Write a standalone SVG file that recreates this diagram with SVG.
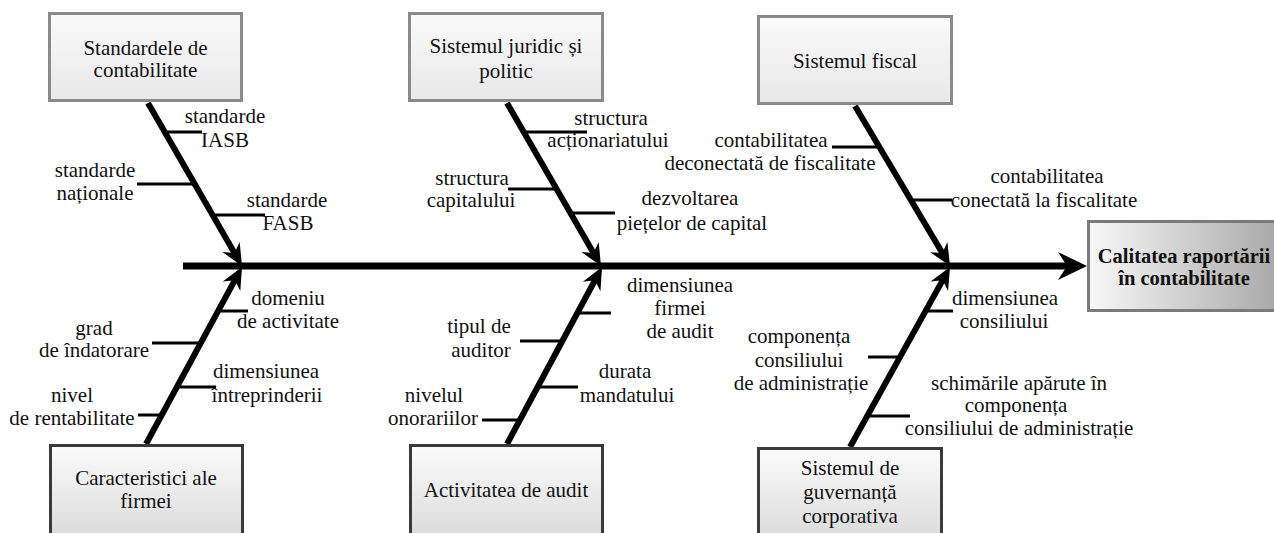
<svg xmlns="http://www.w3.org/2000/svg" width="1274" height="533" viewBox="0 0 1274 533" font-family="Liberation Serif, DejaVu Serif, serif">
<style>
text{font-size:21px;fill:#111;text-anchor:middle}
.b{font-weight:bold;font-size:20.5px}
.top{fill:url(#gTop);stroke:#8a8a8a;stroke-width:3}
.bot{fill:url(#gBot);stroke:#3a3a3a;stroke-width:3}
.res{fill:url(#gRes);stroke:#7a7a7a;stroke-width:3}
.bone{stroke:#000;stroke-width:6;fill:none;marker-end:url(#ah)}
.spine{stroke:#000;stroke-width:7;fill:none;marker-end:url(#ahMain)}
.sub{stroke:#000;stroke-width:3}
</style>
<defs>
<linearGradient id="gTop" x1="0" y1="0" x2="0" y2="1"><stop offset="0" stop-color="#fafafa"/><stop offset="1" stop-color="#e8e8e8"/></linearGradient>
<linearGradient id="gBot" x1="0" y1="0" x2="0" y2="1"><stop offset="0" stop-color="#fbfbfb"/><stop offset="1" stop-color="#d8d8d8"/></linearGradient>
<linearGradient id="gRes" x1="0" y1="0" x2="1" y2="0"><stop offset="0" stop-color="#f8f8f8"/><stop offset="1" stop-color="#a8a8a8"/></linearGradient>
<marker id="ah" markerUnits="userSpaceOnUse" orient="auto" refX="9" refY="0" overflow="visible" markerWidth="24" markerHeight="22">
<path d="M0,-10 L22,0 L0,10 L7,0 Z" fill="#000"/>
</marker>
<marker id="ahMain" markerUnits="userSpaceOnUse" orient="auto" refX="11" refY="0" overflow="visible" markerWidth="30" markerHeight="30">
<path d="M0,-14 L29,0 L0,14 L9,0 Z" fill="#000"/>
</marker>
</defs>

<g id="connectors">
<line class="spine" x1="183" y1="266" x2="1069" y2="266"/>
<line class="bone" x1="148" y1="103" x2="235.5" y2="254.7"/>
<line class="bone" x1="507" y1="103" x2="594.5" y2="254.7"/>
<line class="bone" x1="855" y1="106" x2="943.4" y2="254.8"/>
<line class="bone" x1="146" y1="444" x2="235.8" y2="278.4"/>
<line class="bone" x1="507" y1="444" x2="595.9" y2="278.5"/>
<line class="bone" x1="850" y1="447" x2="943.7" y2="278.4"/>
<line class="sub" x1="165" y1="132" x2="202" y2="132"/>
<line class="sub" x1="137" y1="184" x2="194" y2="184"/>
<line class="sub" x1="213" y1="215" x2="265" y2="215"/>
<line class="sub" x1="524" y1="132" x2="587" y2="132"/>
<line class="sub" x1="508" y1="189" x2="556" y2="189"/>
<line class="sub" x1="570" y1="213" x2="615" y2="213"/>
<line class="sub" x1="832" y1="147" x2="879" y2="147"/>
<line class="sub" x1="911" y1="200" x2="952" y2="200"/>
<line class="sub" x1="218" y1="311" x2="248" y2="311"/>
<line class="sub" x1="152" y1="343" x2="201" y2="343"/>
<line class="sub" x1="177" y1="387" x2="216" y2="387"/>
<line class="sub" x1="138" y1="415" x2="162" y2="415"/>
<line class="sub" x1="577" y1="313" x2="611" y2="313"/>
<line class="sub" x1="520" y1="341" x2="562" y2="341"/>
<line class="sub" x1="538" y1="387" x2="578" y2="387"/>
<line class="sub" x1="482" y1="420" x2="520" y2="420"/>
<line class="sub" x1="925" y1="311" x2="953" y2="311"/>
<line class="sub" x1="868" y1="357" x2="900" y2="357"/>
<line class="sub" x1="867" y1="416" x2="910" y2="416"/>
</g>

<g id="n-standarde">
<rect class="top" x="49.5" y="13.5" width="192" height="87"/>
<text x="145.5" y="55">Standardele de</text>
<text x="145.5" y="77">contabilitate</text>
</g>
<g id="n-juridic">
<rect class="top" x="409.5" y="13.5" width="193" height="87"/>
<text x="506" y="53">Sistemul juridic și</text>
<text x="506" y="78">politic</text>
</g>
<g id="n-fiscal">
<rect class="top" x="758.5" y="16.5" width="193" height="87"/>
<text x="855" y="68">Sistemul fiscal</text>
</g>
<g id="n-firma">
<rect class="bot" x="50.5" y="445.5" width="192" height="100"/>
<text x="146" y="485">Caracteristici ale</text>
<text x="146" y="508">firmei</text>
</g>
<g id="n-audit">
<rect class="bot" x="410.5" y="445.5" width="192" height="100"/>
<text x="506" y="497">Activitatea de audit</text>
</g>
<g id="n-guvernanta">
<rect class="bot" x="758.5" y="448.5" width="183" height="100"/>
<text x="850" y="475">Sistemul de</text>
<text x="850" y="499">guvernanță</text>
<text x="850" y="523">corporativa</text>
</g>
<g id="n-rezultat">
<rect class="res" x="1088.5" y="221.5" width="190" height="89"/>
<text class="b" x="1184" y="263">Calitatea raportării</text>
<text class="b" x="1184" y="285">în contabilitate</text>
</g>

<g id="labels">
<text x="225" y="123">standarde</text>
<text x="225" y="147">IASB</text>
<text x="95" y="177">standarde</text>
<text x="95" y="200">naționale</text>
<text x="287" y="207">standarde</text>
<text x="288" y="230">FASB</text>

<text x="611" y="125">structura</text>
<text x="608" y="147">acționariatului</text>
<text x="472" y="185">structura</text>
<text x="471" y="207">capitalului</text>
<text x="690" y="205">dezvoltarea</text>
<text x="692" y="230">piețelor de capital</text>

<text x="771" y="147">contabilitatea</text>
<text x="770" y="170">deconectată de fiscalitate</text>
<text x="1047" y="183">contabilitatea</text>
<text x="1044" y="207">conectată la fiscalitate</text>

<text x="288" y="305">domeniu</text>
<text x="288" y="328">de activitate</text>
<text x="94" y="335">grad</text>
<text x="94" y="357">de îndatorare</text>
<text x="266" y="378">dimensiunea</text>
<text x="267" y="402">întreprinderii</text>
<text x="72" y="402">nivel</text>
<text x="72" y="425">de rentabilitate</text>

<text x="680" y="292">dimensiunea</text>
<text x="680" y="315">firmei</text>
<text x="680" y="338">de audit</text>
<text x="479" y="333">tipul de</text>
<text x="481" y="357">auditor</text>
<text x="625" y="378">durata</text>
<text x="627" y="402">mandatului</text>
<text x="434" y="402">nivelul</text>
<text x="433" y="425">onorariilor</text>

<text x="1005" y="305">dimensiunea</text>
<text x="1004" y="328">consiliului</text>
<text x="799" y="343">componența</text>
<text x="799" y="367">consiliului</text>
<text x="801" y="390">de administrație</text>
<text x="1019" y="390">schimările apărute în</text>
<text x="1016" y="412">componența</text>
<text x="1019" y="435">consiliului de administrație</text>
</g>
</svg>
